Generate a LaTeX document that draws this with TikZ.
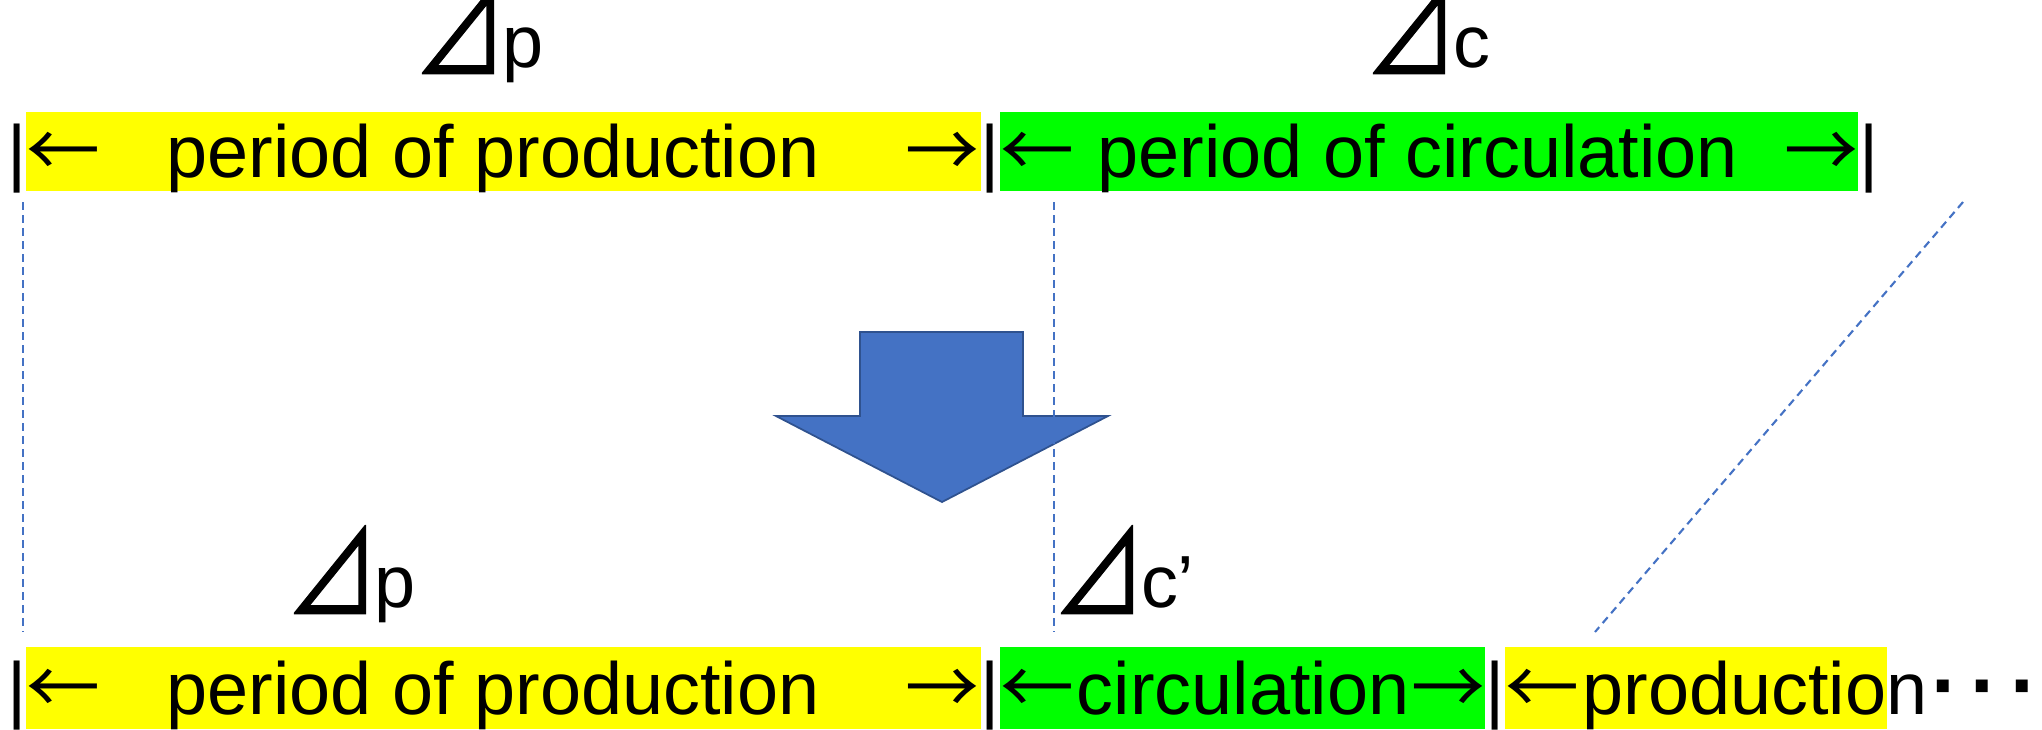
\documentclass[tikz,border=0pt]{standalone}
\usepackage{graphicx}
\usepackage{fontspec}
\setmainfont{Liberation Sans}
\newfontfamily\cjk{Noto Sans CJK JP}
\newfontfamily\cjktri[FakeBold=1.3]{Noto Sans CJK JP}
\newcommand{\rtri}{\smash{\raisebox{-0.8mm}{\scalebox{1.25}[1.55]{\cjktri ⊿}}}\hspace{-0.4mm}}
\definecolor{ylw}{HTML}{FFFF00}
\definecolor{grn}{HTML}{00FF00}
\definecolor{guideblue}{HTML}{4472C4}
\definecolor{arrowfill}{HTML}{4472C4}
\definecolor{arrowedge}{HTML}{2F528F}
\begin{document}
\begin{tikzpicture}[x=0.01cm,y=-0.01cm,
  txt/.style={inner sep=0pt, anchor=base, font=\fontsize{21}{25}\selectfont},
  dlabel/.style={inner sep=0pt, anchor=base west, font=\fontsize{21}{25}\selectfont},
  arr/.style={inner sep=0pt, anchor=base, font=\fontsize{21}{25}\selectfont\cjk},
  barmark/.style={inner sep=0pt, anchor=base, font=\fontsize{21}{25}\selectfont},
  dots/.style={inner sep=0pt, anchor=base, font=\fontsize{24}{28}\selectfont\bfseries},
  ybox/.style={fill=ylw},
  gbox/.style={fill=grn},
  guide/.style={draw=guideblue, line width=0.6pt, dash pattern=on 2.2pt off 1.5pt},
  bigarrow/.style={fill=arrowfill, draw=arrowedge, line width=0.5pt, line join=miter}]
\useasboundingbox (0,0) rectangle (2042,729);

% bands
\fill[ybox] (26,112) rectangle (981,191);
\fill[gbox] (1000,112) rectangle (1858,191);
\fill[ybox] (26,647) rectangle (981,729);
\fill[gbox] (1000,647) rectangle (1485,729);
\fill[ybox] (1505,647) rectangle (1887,729);

% big arrow
\draw[bigarrow] (860,332) -- (1023,332) -- (1023,416) -- (1108,416) -- (942,502) -- (776,416) -- (860,416) -- cycle;

% guide lines
\coordinate (g1a) at (23,202);
\coordinate (g1b) at (23,632);
\coordinate (g2a) at (1054,202);
\coordinate (g2b) at (1054,632);
\coordinate (g3a) at (1963,202);
\coordinate (g3b) at (1595,632);
\draw[guide] (g1a) -- (g1b);
\draw[guide] (g2a) -- (g2b);
\draw[guide] (g3a) -- (g3b);

% top labels
\node[dlabel] (dp1) at (413,67) {\rtri p};
\node[dlabel] (dc1) at (1364,67) {\rtri c};

% top row
\node[barmark] (tb1) at (17,177) {|};
\node[arr] (tla1) at (63,177) {←};
\node[txt] (tt1) at (493,177) {period of production};
\node[arr] (tra1) at (942,177) {→};
\node[barmark] (tb2) at (990,177) {|};
\node[arr] (tla2) at (1037,177) {←};
\node[txt] (tt2) at (1418,177) {period of circulation};
\node[arr] (tra2) at (1821,177) {→};
\node[barmark] (tb3) at (1869,177) {|};

% bottom labels
\node[dlabel] (dp2) at (285,607) {\rtri p};
\node[dlabel] (dc2) at (1052,607) {\rtri c’};

% bottom row
\node[barmark] (bb1) at (17,714) {|};
\node[arr] (bla1) at (63,714) {←};
\node[txt] (bt1) at (493,714) {period of production};
\node[arr] (bra1) at (942,714) {→};
\node[barmark] (bb2) at (990,714) {|};
\node[arr] (bla2) at (1037,714) {←};
\node[txt] (bt2) at (1243,714) {circulation};
\node[arr] (bra2) at (1448,714) {→};
\node[barmark] (bb3) at (1495,714) {|};
\node[arr] (bla3) at (1542,714) {←};
\node[txt] (bt3) at (1755,714) {production};
\node[dots] (bdots) at (1985,714) {·\hspace{3.2pt}·\hspace{3.2pt}·};
\end{tikzpicture}
\end{document}
